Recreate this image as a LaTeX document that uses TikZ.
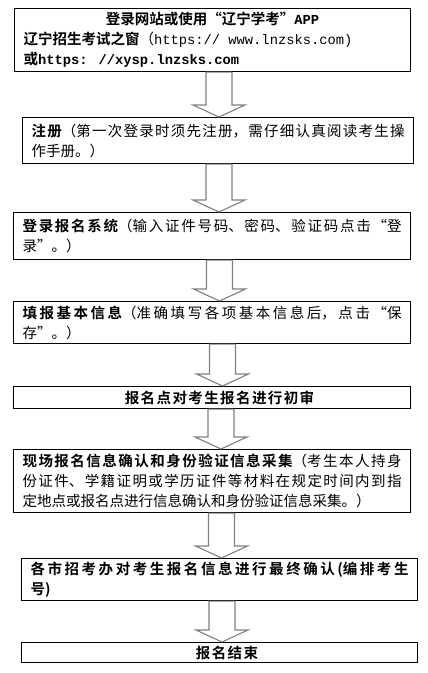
\documentclass[tikz,border=0pt]{standalone}
\usepackage{fontspec}
\setmainfont{Noto Sans CJK SC}[BoldFont={Noto Sans CJK SC Bold}]
\newfontfamily\urlfont{Liberation Mono}[Scale=0.95]
\XeTeXlinebreaklocale "zh"
\XeTeXlinebreakskip=0pt plus 4pt
\hbadness=10000
\usepackage{xcolor}
\definecolor{arrowGray}{HTML}{808080}
\usetikzlibrary{calc}
\tikzset{%
  stepBox/.style={%
    rectangle,
    draw=black,
    line width=1.1pt,
    fill=white,
    anchor=north west,
    inner xsep=9pt,
    inner ysep=0pt,
    align=justify,
    font=\fontsize{14.5pt}{20pt}\selectfont
  },
  titleBox/.style={%
    stepBox,
    align=center,
    execute at begin node={\XeTeXlinebreakskip=1.4pt\relax}
  },
  blockArrow/.style={%
    draw=arrowGray,
    fill=white,
    line width=1.1pt,
    line join=miter
  }
}
% hollow block arrow from one box down to the next
\newcommand{\flowArrow}[3]{%
  \draw[blockArrow] let \p1=(#2.south), \p2=(#3.north) in
    ({#1pt-13pt},\y1) -- ({#1pt+13pt},\y1) -- ({#1pt+13pt},\y2+12pt)
    -- ({#1pt+26pt},\y2+12pt) -- (#1pt,\y2) -- ({#1pt-26pt},\y2+12pt)
    -- ({#1pt-13pt},\y2+12pt) -- cycle;}

\begin{document}
\begin{tikzpicture}[x=1pt,y=-1pt]
  \useasboundingbox (0,0) rectangle (428,673);

  \node[stepBox, minimum width=396pt, minimum height=63pt, text width=378pt] (login) at (14,8)
    {\hfill\textbf{登录网站或使用“辽宁学考”{\urlfont APP}}\hfill\mbox{}\\
     \textbf{辽宁招生考试之窗}（{\urlfont https:// www.lnzsks.com)}\\
     \textbf{或{\urlfont https: //xysp.lnzsks.com}}};
  \node[stepBox, minimum width=391pt, minimum height=46pt, text width=373pt] (register) at (22,117)
    {\textbf{注册}（第一次登录时须先注册，需仔细认真阅读考生操\linebreak 作手册。）};
  \node[stepBox, minimum width=397pt, minimum height=47pt, text width=379pt] (loginSys) at (13,212)
    {\textbf{登录报名系统}（输入证件号码、密码、验证码点击“登\linebreak 录”。）};
  \node[stepBox, minimum width=397pt, minimum height=42pt, text width=379pt] (fillInfo) at (13,301)
    {\textbf{填报基本信息}（准确填写各项基本信息后，点击“保\linebreak 存”。）};
  \node[titleBox, minimum width=397pt, minimum height=22pt, text width=379pt] (firstReview) at (13,386)
    {\hspace*{15pt}\textbf{报名点对考生报名进行初审}};
  \node[stepBox, minimum width=397pt, minimum height=63pt, text width=379pt] (onsite) at (13,449)
    {\textbf{现场报名信息确认和身份验证信息采集}（考生本人持身\linebreak
     份证件、学籍证明或学历证件等材料在规定时间内到指\linebreak
     定地点或报名点进行信息确认和身份验证信息采集。）};
  \node[stepBox, minimum width=396pt, minimum height=42pt, text width=378pt] (finalCheck) at (21,558)
    {\textbf{各市招考办对考生报名信息进行最终确认(编排考生\linebreak 号)}};
  \node[titleBox, minimum width=396pt, minimum height=20pt, text width=378pt] (finish) at (21,642)
    {\hspace*{15pt}\textbf{报名结束}};

  \flowArrow{219}{login}{register}
  \flowArrow{219}{register}{loginSys}
  \flowArrow{219.5}{loginSys}{fillInfo}
  \flowArrow{222.5}{fillInfo}{firstReview}
  \flowArrow{221}{firstReview}{onsite}
  \flowArrow{221.5}{onsite}{finalCheck}
  \flowArrow{222}{finalCheck}{finish}
\end{tikzpicture}
\end{document}
